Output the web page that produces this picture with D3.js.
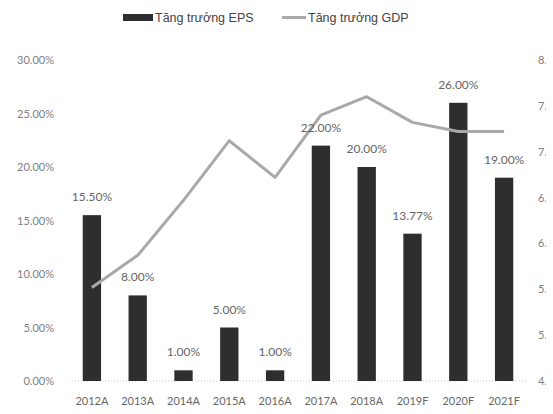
<!DOCTYPE html>
<html>
<head>
<meta charset="utf-8">
<script src="https://cdn.jsdelivr.net/npm/d3@7"></script>
<style>
  html, body { margin: 0; padding: 0; background: #fff; }
  svg { display: block; }
</style>
</head>
<body>
<div id="chart"></div>
<script>
// ---- data ----
const years = ["2012A", "2013A", "2014A", "2015A", "2016A", "2017A", "2018A", "2019F", "2020F", "2021F"];
const epsGrowth = [15.5, 8.0, 1.0, 5.0, 1.0, 22.0, 20.0, 13.77, 26.0, 19.0];
const gdpGrowth = [5.52, 5.87, 6.47, 7.12, 6.72, 7.40, 7.60, 7.32, 7.22, 7.22];
const leftTicks = [0, 5, 10, 15, 20, 25, 30];
const rightTicks = [4.5, 5.0, 5.5, 6.0, 6.5, 7.0, 7.5, 8.0];

// ---- setup ----
const W = 553, H = 414;
const plot = { left: 69, right: 527, top: 60, bottom: 381 };
const axisFont = "Lato, 'Open Sans', sans-serif";

const svg = d3.select("#chart").append("svg")
  .attr("width", W)
  .attr("height", H);

const x = d3.scaleBand()
  .domain(years)
  .range([plot.left, plot.right])
  .paddingInner(0.6)
  .paddingOuter(0.3);

const yL = d3.scaleLinear().domain([0, 30]).range([plot.bottom, plot.top]);
const yR = d3.scaleLinear().domain([4.5, 8]).range([plot.bottom, plot.top]);

// ---- axes ----
const left = svg.append("g")
  .attr("transform", `translate(${plot.left - 12},0)`)
  .call(d3.axisLeft(yL).tickValues(leftTicks).tickSize(0).tickFormat(d => d.toFixed(2) + "%"));
left.select(".domain").remove();
left.selectAll("text")
  .attr("font-family", axisFont)
  .attr("font-size", 11)
  .attr("fill", "#808080");

// right axis is cut off by the picture edge in the original
svg.append("defs").append("clipPath").attr("id", "rclip")
  .append("rect").attr("x", 0).attr("y", 0).attr("width", 546).attr("height", H);

const right = svg.append("g")
  .attr("clip-path", "url(#rclip)")
  .append("g")
  .attr("transform", `translate(${plot.right + 8},0)`)
  .call(d3.axisRight(yR).tickValues(rightTicks).tickSize(0).tickFormat(d => d.toFixed(1) + "%"));
right.select(".domain").remove();
right.selectAll("text")
  .attr("font-family", axisFont)
  .attr("font-size", 11)
  .attr("fill", "#808080");

const bottom = svg.append("g")
  .attr("transform", `translate(0,${plot.bottom})`)
  .call(d3.axisBottom(x).tickSize(0).tickPadding(16));
bottom.select(".domain").remove();
bottom.selectAll("text")
  .attr("font-family", axisFont)
  .attr("font-size", 11)
  .attr("fill", "#666");

// baseline
svg.append("line")
  .attr("x1", plot.left).attr("x2", plot.right)
  .attr("y1", yL(0)).attr("y2", yL(0))
  .attr("stroke", "#ccc")
  .attr("stroke-dasharray", "1,2");

// ---- bars ----
svg.append("g").selectAll("rect")
  .data(epsGrowth)
  .join("rect")
  .attr("x", (d, i) => x(years[i]))
  .attr("y", d => yL(d))
  .attr("width", x.bandwidth())
  .attr("height", d => yL(0) - yL(d))
  .attr("fill", "#2e2e2e");

// ---- GDP line ----
const line = d3.line()
  .x((d, i) => x(years[i]) + x.bandwidth() / 2)
  .y(d => yR(d));

svg.append("path")
  .datum(gdpGrowth)
  .attr("d", line)
  .attr("fill", "none")
  .attr("stroke", "#a9a9a9")
  .attr("stroke-width", 3)
  .attr("stroke-linejoin", "round");

// ---- bar labels ----
svg.append("g").selectAll("text")
  .data(epsGrowth)
  .join("text")
  .attr("x", (d, i) => x(years[i]) + x.bandwidth() / 2)
  .attr("y", d => yL(d) - 14)
  .attr("text-anchor", "middle")
  .attr("font-family", axisFont)
  .attr("font-size", 12)
  .attr("fill", "#666")
  .text(d => d.toFixed(2) + "%");

// ---- legend ----
const legend = svg.append("g").attr("font-family", "'Liberation Sans', Arial, sans-serif")
  .attr("font-size", 12.5).attr("fill", "#444");
legend.append("rect").attr("x", 123).attr("y", 14).attr("width", 30).attr("height", 7).attr("fill", "#2e2e2e");
legend.append("text").attr("x", 155).attr("y", 22).text("Tăng trưởng EPS");
legend.append("line").attr("x1", 282).attr("x2", 306).attr("y1", 17.5).attr("y2", 17.5)
  .attr("stroke", "#a9a9a9").attr("stroke-width", 3);
legend.append("text").attr("x", 308).attr("y", 22).text("Tăng trưởng GDP");
</script>
</body>
</html>
